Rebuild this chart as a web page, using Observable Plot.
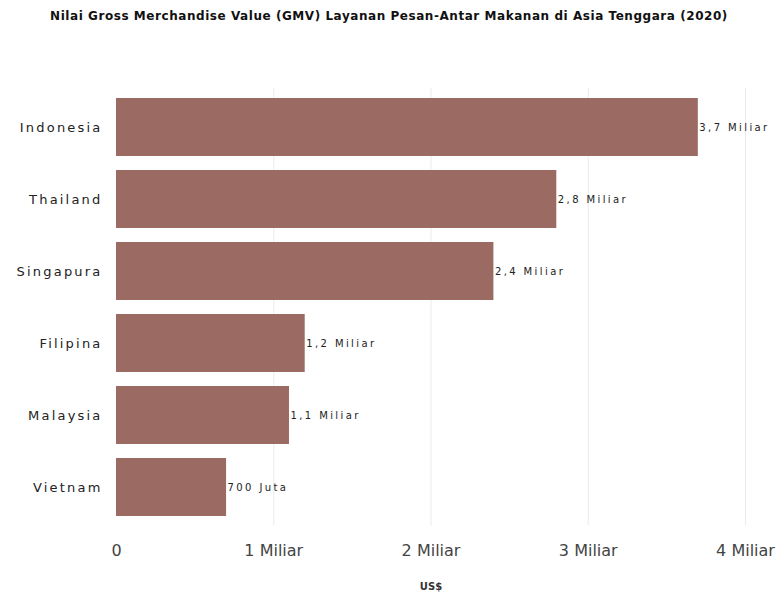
<!DOCTYPE html>
<html>
<head>
<meta charset="utf-8">
<script src="https://cdn.jsdelivr.net/npm/d3@7"></script>
<script src="https://cdn.jsdelivr.net/npm/@observablehq/plot@0.6"></script>
<style>
  body { margin: 0; background: #fff; font-family: "DejaVu Sans", Verdana, sans-serif; }
  #wrap { position: relative; width: 778px; height: 592px; }
  #title { position: absolute; top: 9px; left: 0; width: 778px; text-align: center; font-size: 12px; font-weight: bold; color: #111; letter-spacing: 0.55px; white-space: nowrap; }
  #xlabel { position: absolute; top: 581px; left: 0; width: 778px; padding-left: 84px; box-sizing: border-box; text-align: center; font-size: 10px; font-weight: bold; color: #333; }
  #chart { position: absolute; top: 0; left: 0; }
</style>
</head>
<body>
<div id="wrap">
  <div id="chart"></div>
  <div id="title">Nilai Gross Merchandise Value (GMV) Layanan Pesan-Antar Makanan di Asia Tenggara (2020)</div>
  <div id="xlabel">US$</div>
</div>
<script>
const countries = ["Indonesia", "Thailand", "Singapura", "Filipina", "Malaysia", "Vietnam"];
const values = [3.7, 2.8, 2.4, 1.2, 1.1, 0.7];
const valueLabels = ["3,7 Miliar", "2,8 Miliar", "2,4 Miliar", "1,2 Miliar", "1,1 Miliar", "700 Juta"];
const xTicks = [0, 1, 2, 3, 4];
const xTickLabels = ["0", "1 Miliar", "2 Miliar", "3 Miliar", "4 Miliar"];

const data = countries.map((c, i) => ({country: c, value: values[i], label: valueLabels[i]}));

const chart = Plot.plot({
  width: 778,
  height: 592,
  marginTop: 81.5,
  marginBottom: 60.5,
  marginLeft: 116,
  marginRight: 33,
  style: {fontFamily: "DejaVu Sans, Verdana, sans-serif", background: "transparent"},
  x: {domain: [0, 4], ticks: xTicks, label: null},
  y: {domain: countries, padding: 0.2, label: null},
  marks: [
    Plot.ruleX(xTicks.slice(1), {stroke: "#ebebeb", insetTop: 6, insetBottom: 6}),
    Plot.barX(data, {x: "value", y: "country", fill: "#9b6a62"}),
    Plot.text(data, {x: "value", y: "country", text: "label", textAnchor: "start", dx: 1, fontSize: 10, fill: "#222", className: "vlabel"}),
    Plot.axisX(xTicks, {tickSize: 0, tickPadding: 13, fontSize: 16, fill: "#444", label: null, tickFormat: (d) => xTickLabels[xTicks.indexOf(d)]}),
    Plot.axisY({tickSize: 0, tickPadding: 14, fontSize: 13, fill: "#222", label: null})
  ]
});
chart.querySelectorAll("g[aria-label='y-axis tick label'] text").forEach(t => t.style.letterSpacing = "2.2px");
chart.querySelectorAll(".vlabel text").forEach(t => t.style.letterSpacing = "2.4px");
document.getElementById("chart").appendChild(chart);
</script>
</body>
</html>
